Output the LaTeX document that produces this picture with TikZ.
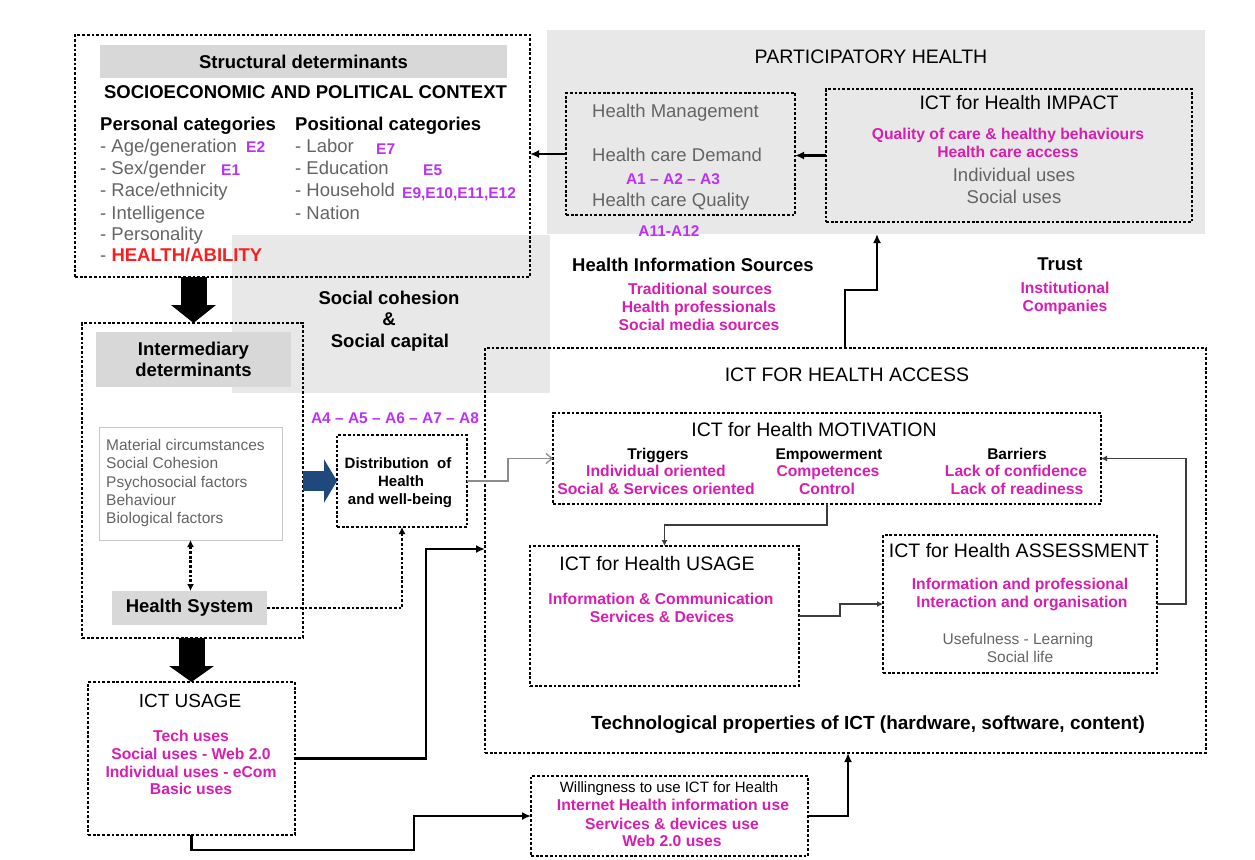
\documentclass[tikz,border=0pt]{standalone}
\usepackage{fontspec}
\setmainfont{Liberation Sans}
\usetikzlibrary{arrows.meta}

\definecolor{bgray}{RGB}{232,232,232}
\definecolor{tgray}{RGB}{216,216,216}
\definecolor{magc}{RGB}{215,30,175}
\definecolor{vioc}{RGB}{185,50,245}
\definecolor{redc}{RGB}{250,30,30}
\definecolor{txtg}{RGB}{100,100,100}
\definecolor{linek}{RGB}{60,60,60}
\definecolor{lineg}{RGB}{140,140,140}
\definecolor{bluec}{RGB}{31,73,125}

\tikzset{
  hd/.style={font=\bfseries\fontsize{18.5}{22}\selectfont, inner sep=0pt, yshift=-4.5pt},
  tt/.style={font=\fontsize{19.5}{23}\selectfont, inner sep=0pt, yshift=-4.7pt},
  it/.style={text=txtg, font=\fontsize{18.5}{22}\selectfont, inner sep=0pt, yshift=-4.5pt},
  mg/.style={text=magc, font=\bfseries\fontsize{15.7}{18}\selectfont, inner sep=0pt, yshift=-3.8pt},
  vi/.style={text=vioc, font=\bfseries\fontsize{15.5}{18}\selectfont, inner sep=0pt, yshift=-3.8pt},
  sm/.style={text=txtg, font=\fontsize{15.5}{18}\selectfont, inner sep=0pt, yshift=-3.8pt},
  bk/.style={font=\bfseries\fontsize{15.5}{18}\selectfont, inner sep=0pt, yshift=-3.8pt},
  dotbox/.style={draw, line width=2.8pt, dash pattern=on 2.8pt off 1.9pt,
    inner sep=0pt, outer sep=0pt, anchor=north west},
  area/.style={fill=bgray, inner sep=0pt, outer sep=0pt, anchor=north west},
  band/.style={fill=tgray, inner sep=0pt, outer sep=0pt, anchor=north west,
    align=center, font=\bfseries\fontsize{18.5}{21}\selectfont},
  thk/.style={line width=2.6pt, -{Latex[length=9pt,width=8pt]}},
  thn/.style={line width=1.4pt, draw=linek, -{Latex[length=6pt,width=6pt]}},
  dotc/.style={line width=2.8pt, dash pattern=on 2.8pt off 1.9pt},
}

\begin{document}
\begin{tikzpicture}[x=1pt,y=-1pt]
\useasboundingbox (0,0) rectangle (1255,859);

% shaded background areas
\node[area, minimum width=658pt, minimum height=204pt] (part) at (547,30) {};
\node[area, minimum width=318pt, minimum height=158pt] (soc) at (232,235) {};

% structural determinants
\node[band, minimum width=407pt, minimum height=33pt] (sband) at (100,45) {Structural determinants};
\node[dotbox, minimum width=455pt, minimum height=242pt] (struct) at (75,35) {};
\node[hd, anchor=mid] (ctx) at (305.5,91) {SOCIOECONOMIC AND POLITICAL CONTEXT};
\node[hd, anchor=mid west] (pers) at (100,123) {Personal categories};
\node[hd, anchor=mid west] (posi) at (295,123) {Positional categories};
\node[it, anchor=mid west] (p1) at (100,145) {- Age/generation};
\node[it, anchor=mid west] (p2) at (100,167) {- Sex/gender};
\node[it, anchor=mid west] (p3) at (100,189) {- Race/ethnicity};
\node[it, anchor=mid west] (p4) at (100,212) {- Intelligence};
\node[it, anchor=mid west] (p5) at (100,233) {- Personality};
\node[it, anchor=mid west] (p6) at (100,254) {- {\color{redc}\bfseries HEALTH/ABILITY}};
\node[it, anchor=mid west] (q1) at (295,145) {- Labor};
\node[it, anchor=mid west] (q2) at (295,167) {- Education};
\node[it, anchor=mid west] (q3) at (295,189) {- Household};
\node[it, anchor=mid west] (q4) at (295,212) {- Nation};
\node[vi, anchor=mid west] (e2) at (246,146) {E2};
\node[vi, anchor=mid west] (e1) at (221,169) {E1};
\node[vi, anchor=mid west] (e7) at (376,148) {E7};
\node[vi, anchor=mid west] (e5) at (423,169) {E5};
\node[vi, anchor=mid west] (e9) at (402,192) {E9,E10,E11,E12};

% participatory health
\node[tt, anchor=mid] (parttitle) at (871,56) {PARTICIPATORY HEALTH};
\node[dotbox, minimum width=229pt, minimum height=122pt] (mgmt) at (566,93) {};
\node[it, anchor=mid west] (m1) at (592,110) {Health Management};
\node[it, anchor=mid west] (m2) at (592,154) {Health care Demand};
\node[vi, anchor=mid] (a13) at (673,178) {A1 – A2 – A3};
\node[it, anchor=mid west] (m3) at (592,199) {Health care Quality};
\node[vi, anchor=mid] (a1112) at (669,230) {A11-A12};
\node[dotbox, minimum width=366pt, minimum height=133pt] (impact) at (826,89) {};
\node[tt, anchor=mid] (imptitle) at (1019,102) {ICT for Health IMPACT};
\node[mg, anchor=mid] (i1) at (1008,133) {Quality of care \& healthy behaviours};
\node[mg, anchor=mid] (i2) at (1008,151) {Health care access};
\node[it, anchor=mid] (i3) at (1014,174) {Individual uses};
\node[it, anchor=mid] (i4) at (1014,196) {Social uses};

% social cohesion
\node[hd, anchor=mid] (sc1) at (389,297) {Social cohesion};
\node[hd, anchor=mid] (sc2) at (389,318) {\&};
\node[hd, anchor=mid] (sc3) at (390,340) {Social capital};

% information sources and trust
\node[hd, anchor=mid] (his) at (693,264) {Health Information Sources};
\node[mg, anchor=mid] (h1) at (700,288) {Traditional sources};
\node[mg, anchor=mid] (h2) at (699,306) {Health professionals};
\node[mg, anchor=mid] (h3) at (699,324) {Social media sources};
\node[hd, anchor=mid] (trust) at (1060,263) {Trust};
\node[mg, anchor=mid] (t1) at (1065,287) {Institutional};
\node[mg, anchor=mid] (t2) at (1065,305) {Companies};

% intermediary determinants
\node[band, minimum width=195pt, minimum height=55pt] (iband) at (96,332) {Intermediary\\determinants};
\node[dotbox, minimum width=221pt, minimum height=315pt] (inter) at (82,323) {};
\node[draw=black!22, line width=1pt, inner sep=0pt, outer sep=0pt, anchor=north west,
  minimum width=183pt, minimum height=113pt] (fbox) at (99,427) {};
\node[sm, anchor=mid west] (f1) at (106,444) {Material circumstances};
\node[sm, anchor=mid west] (f2) at (106,462) {Social Cohesion};
\node[sm, anchor=mid west] (f3) at (106,481) {Psychosocial factors};
\node[sm, anchor=mid west] (f4) at (106,499) {Behaviour};
\node[sm, anchor=mid west] (f5) at (106,517) {Biological factors};
\node[band, minimum width=155pt, minimum height=34pt] (hsys) at (112,591) {Health System};

% distribution of health
\node[vi, anchor=mid] (a48) at (395,417) {A4 – A5 – A6 – A7 – A8};
\node[dotbox, minimum width=130pt, minimum height=92pt] (dist) at (337,435) {};
\node[bk, anchor=mid, font=\bfseries\fontsize{15}{18}\selectfont] (d1) at (398,462) {Distribution\ \ of};
\node[bk, anchor=mid, font=\bfseries\fontsize{15}{18}\selectfont] (d2) at (401,480) {Health};
\node[bk, anchor=mid, font=\bfseries\fontsize{15}{18}\selectfont] (d3) at (400,498) {and well-being};

% ICT usage
\node[dotbox, minimum width=207pt, minimum height=153pt] (icu) at (88,682) {};
\node[tt, anchor=mid, font=\fontsize{19}{22}\selectfont] (icutitle) at (190,700) {ICT USAGE};
\node[mg, anchor=mid] (u1) at (191,735) {Tech uses};
\node[mg, anchor=mid] (u2) at (191,753) {Social uses - Web 2.0};
\node[mg, anchor=mid] (u3) at (191,771) {Individual uses - eCom};
\node[mg, anchor=mid] (u4) at (191,788) {Basic uses};

% willingness
\node[dotbox, minimum width=277pt, minimum height=80pt] (will) at (531,776) {};
\node[anchor=mid, inner sep=0pt, yshift=-3.6pt, font=\fontsize{15}{18}\selectfont] (w0) at (669,786) {Willingness to use ICT for Health};
\node[mg, anchor=mid] (w1) at (673,804) {Internet Health information use};
\node[mg, anchor=mid] (w2) at (672,823) {Services \& devices use};
\node[mg, anchor=mid] (w3) at (672,840) {Web 2.0 uses};

% ICT for health access
\node[dotbox, minimum width=721pt, minimum height=405pt] (access) at (485,348) {};
\node[tt, anchor=mid] (acctitle) at (847,374) {ICT FOR HEALTH ACCESS};
\node[dotbox, minimum width=548pt, minimum height=91pt] (mot) at (553,413) {};
\node[tt, anchor=mid] (mottitle) at (814,429) {ICT for Health MOTIVATION};
\node[bk, anchor=mid] (tr0) at (658,453) {Triggers};
\node[mg, anchor=mid] (tr1) at (656,470) {Individual oriented};
\node[mg, anchor=mid] (tr2) at (656,488) {Social \& Services oriented};
\node[bk, anchor=mid] (em0) at (829,453) {Empowerment};
\node[mg, anchor=mid] (em1) at (828,470) {Competences};
\node[mg, anchor=mid] (em2) at (827,488) {Control};
\node[bk, anchor=mid] (ba0) at (1017,453) {Barriers};
\node[mg, anchor=mid] (ba1) at (1016,470) {Lack of confidence};
\node[mg, anchor=mid] (ba2) at (1017,488) {Lack of readiness};
\node[dotbox, minimum width=269pt, minimum height=140pt] (use) at (530,546) {};
\node[tt, anchor=mid] (usetitle) at (657,563) {ICT for Health USAGE};
\node[mg, anchor=mid] (us1) at (661,598) {Information \& Communication};
\node[mg, anchor=mid] (us2) at (662,616) {Services \& Devices};
\node[dotbox, minimum width=274pt, minimum height=138pt] (ass) at (883,535) {};
\node[tt, anchor=mid] (asstitle) at (1019,550) {ICT for Health ASSESSMENT};
\node[mg, anchor=mid] (as1) at (1020,583) {Information and professional};
\node[mg, anchor=mid] (as2) at (1022,601) {Interaction and organisation};
\node[sm, anchor=mid] (as3) at (1018,638) {Usefulness - Learning};
\node[sm, anchor=mid] (as4) at (1020,656) {Social life};
\node[hd, anchor=mid, font=\bfseries\fontsize{19}{22}\selectfont] (tech) at (868,722) {Technological properties of ICT (hardware, software, content)};

% block arrows
\draw[line width=26pt, -{Triangle[length=18pt,width=44pt]}]
  (struct.south -| iband.center) -- (inter.north -| iband.center);
\draw[line width=26pt, -{Triangle[length=16pt,width=44pt]}]
  (inter.south -| icu.north) -- (icu.north);
\draw[bluec, line width=20pt, -{Triangle[length=13pt,width=43pt]}]
  (inter.east |- dist.west) -- (dist.west);

% dotted links inside the intermediary determinants
\draw[dotc, {Latex[length=7pt,width=7pt]}-{Latex[length=7pt,width=7pt]}]
  (fbox.south) -- (fbox.south |- hsys.north);
\draw[dotc, -{Latex[length=7pt,width=7pt]}] (hsys.east) -| (dist.south);

% thick connectors
\draw[thk] (impact.west) -- (mgmt.east |- impact.west);
\draw[thk] (mgmt.west) -- (struct.east |- mgmt.west);
\draw[thk] (icu.east) -| (426,549) -- (access.west |- 426,549);
\draw[thk] (icu.south) |- (414,850) |- (will.west);
\draw[thk] (will.east) -| (access.south -| 848,0);
\draw[thk] (access.north -| 845,0) -- (845,290) -- (877,290) -- (part.south -| 877,0);

% thin connectors
\draw[line width=1.3pt, draw=lineg, -{Straight Barb[length=6pt,width=10pt]}]
  (dist.east) -- ++(41,0) |- (mot.west);
\draw[thn] (mot.south) -- ++(0,21) -| (use.north);
\draw[thn] (use.east) -- ++(41,0) |- (ass.west);
\draw[thn] (ass.east) -- ++(29,0) |- (mot.east);
\end{tikzpicture}
\end{document}
